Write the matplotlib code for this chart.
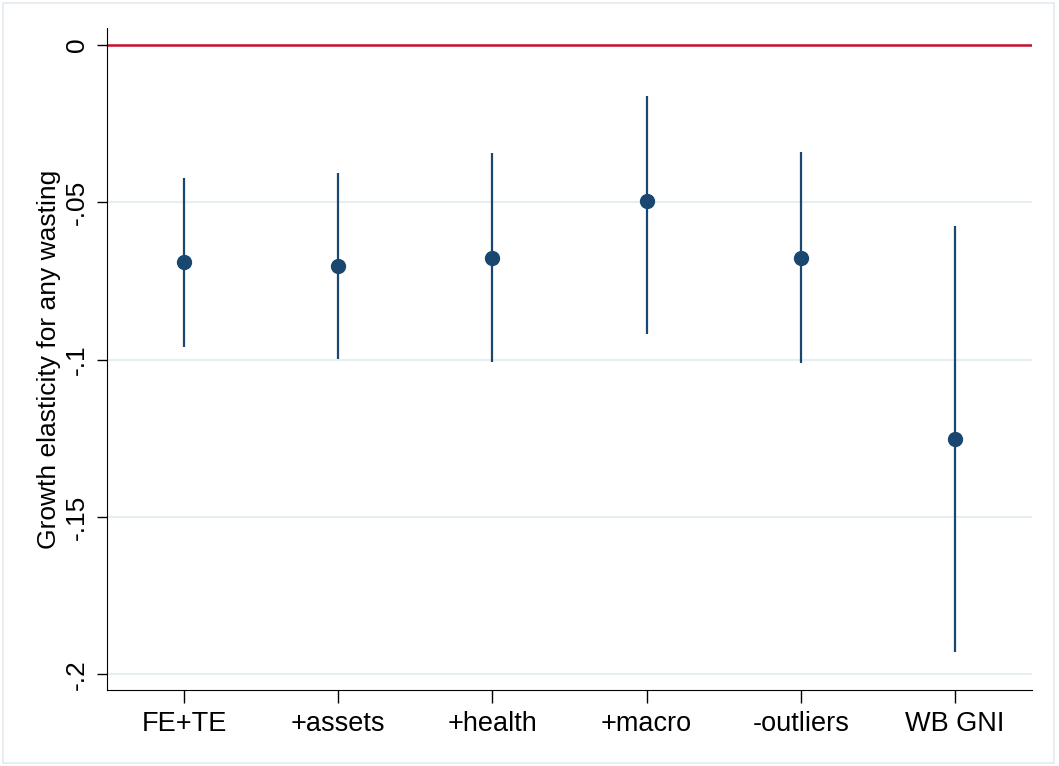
import matplotlib
matplotlib.use("Agg")
import matplotlib.pyplot as plt
from matplotlib.patches import Rectangle

# coefficient estimates with confidence intervals
labels = ["FE+TE", "+assets", "+health", "+macro", "-outliers", "WB GNI"]
coef = [-0.069, -0.0703, -0.0677, -0.0496, -0.0677, -0.1252]
ci_low = [-0.096, -0.0998, -0.1008, -0.0919, -0.1010, -0.1930]
ci_high = [-0.0423, -0.0407, -0.0343, -0.0162, -0.0340, -0.0575]
yticks = [0, -0.05, -0.1, -0.15, -0.2]
ytick_labels = ["0", "-.05", "-.1", "-.15", "-.2"]

plt.rcParams['font.family'] = ['Liberation Sans', 'DejaVu Sans']

navy = "#1a476f"
grid_col = "#e6eef1"

fig = plt.figure(figsize=(10.59, 7.66), dpi=100)
fig.patches.append(Rectangle((3 / 1059, 3 / 766), 1051 / 1059, 760 / 766,
                             transform=fig.transFigure, fill=False,
                             edgecolor="#e3eaee", linewidth=1.2))
ax = fig.add_axes([0.101, 0.0992, 0.8735, 0.8642])

x = list(range(1, len(labels) + 1))
ax.vlines(x, ci_low, ci_high, color=navy, linewidth=1.6, zorder=3)
ax.plot(x, coef, 'o', color=navy, markersize=10, zorder=4)
ax.axhline(0, color="#c8102e", linewidth=1.8, zorder=2)

ax.set_xlim(0.5, 6.5)
ax.set_ylim(-0.205, 0.0054)
ax.set_xticks(x)
ax.set_xticklabels(labels, fontsize=19.5)
ax.set_yticks(yticks)
ax.set_yticklabels(ytick_labels, fontsize=19, rotation=90, va="center")
ax.set_ylabel("Growth elasticity for any wasting", fontsize=19, labelpad=3)

for y in yticks:
    ax.axhline(y, color=grid_col, linewidth=1.5, zorder=1)

ax.spines['top'].set_visible(False)
ax.spines['right'].set_visible(False)
ax.tick_params(axis='x', length=9, width=1, pad=6)
ax.tick_params(axis='y', length=7, width=1, pad=6)

plt.savefig("out.png", dpi=100)
